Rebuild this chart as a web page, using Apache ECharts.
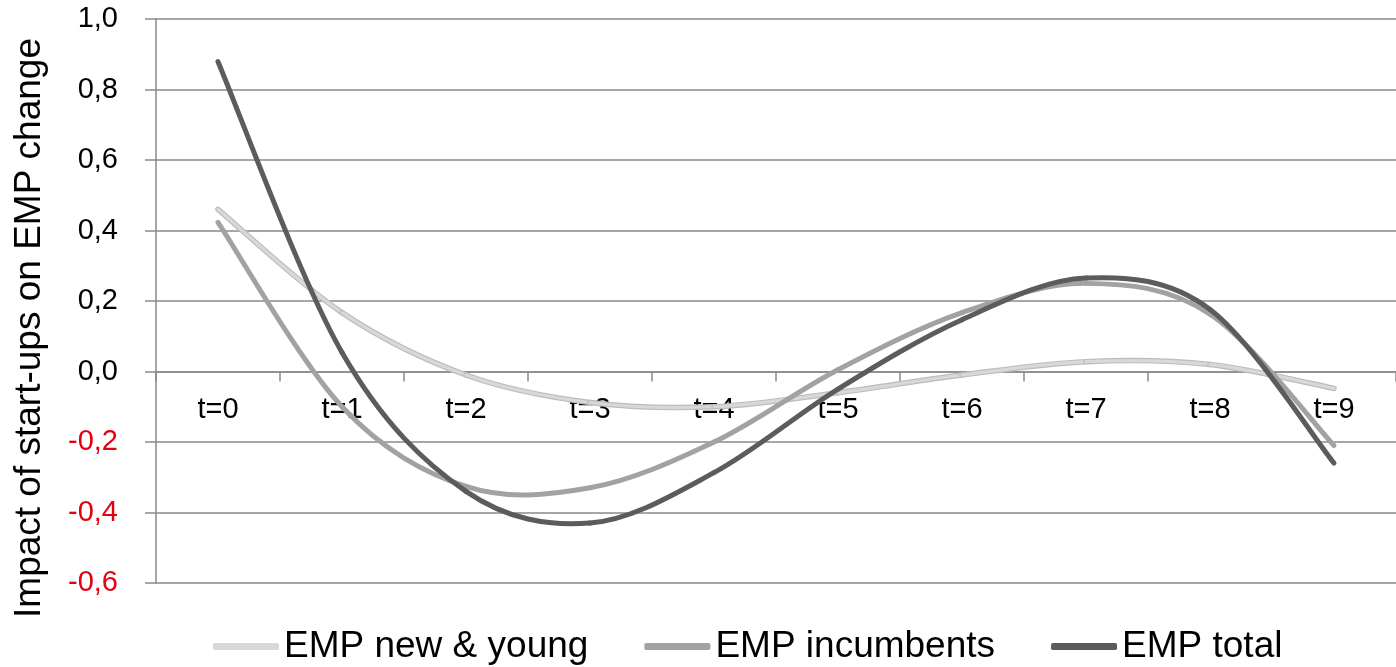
<!DOCTYPE html>
<html>
<head>
<meta charset="utf-8">
<script src="https://cdn.jsdelivr.net/npm/echarts@6/dist/echarts.min.js"></script>
<style>
html,body{margin:0;padding:0;background:#fff;}
#c{width:1396px;height:667px;}
</style>
</head>
<body>
<div id="c"></div>
<script>
const categories = ['t=0','t=1','t=2','t=3','t=4','t=5','t=6','t=7','t=8','t=9'];
const newYoung = [0.46, 0.167, -0.01, -0.088, -0.10, -0.06, -0.01, 0.028, 0.02, -0.048];
const incumbents = [0.423, -0.10, -0.326, -0.33, -0.20, 0.005, 0.167, 0.25, 0.163, -0.21];
const total = [0.879, 0.054, -0.34, -0.43, -0.287, -0.05, 0.147, 0.265, 0.176, -0.26];
const seriesNames = ['EMP new & young', 'EMP incumbents', 'EMP total'];
const yAxisTitle = 'Impact of start-ups on EMP change';

const FONT = '"Liberation Sans", Arial, sans-serif';
const GRID = '#8a8a8a';
const colors = ['#d8d8d8', '#a2a2a2', '#5c5c5c'];
const edgeColors = ['#bcbcbc', null, null];

// Excel-like smoothed line (cardinal spline, 1/6 tangent), drawn per segment through api.coord
function smoothSeries(name, values, color, edge, z) {
  return {
    name: name,
    type: 'custom',
    coordinateSystem: 'cartesian2d',
    z: z,
    itemStyle: { color: color },
    encode: { x: 0, y: 1 },
    data: values.map((v, i) => [i, v]),
    renderItem: function (params, api) {
      const i = params.dataIndex;
      const n = values.length;
      if (i >= n - 1) return null;
      const P = k => {
        const kk = Math.max(0, Math.min(n - 1, k));
        return api.coord([kk, values[kk]]);
      };
      const p0 = P(i - 1), p1 = P(i), p2 = P(i + 1), p3 = P(i + 2);
      const t = 1 / 6;
      const shape = {
        x1: p1[0], y1: p1[1],
        cpx1: p1[0] + (p2[0] - p0[0]) * t, cpy1: p1[1] + (p2[1] - p0[1]) * t,
        cpx2: p2[0] - (p3[0] - p1[0]) * t, cpy2: p2[1] - (p3[1] - p1[1]) * t,
        x2: p2[0], y2: p2[1]
      };
      const children = [];
      if (edge) {
        children.push({ type: 'bezierCurve', shape: shape,
          style: { stroke: edge, lineWidth: 5.5, fill: null, lineCap: 'round' } });
        children.push({ type: 'bezierCurve', shape: shape,
          style: { stroke: color, lineWidth: 3.2, fill: null, lineCap: 'round' } });
      } else {
        children.push({ type: 'bezierCurve', shape: shape,
          style: { stroke: color, lineWidth: 5, fill: null, lineCap: 'round' } });
      }
      return { type: 'group', children: children };
    }
  };
}

const chart = echarts.init(document.getElementById('c'));
chart.setOption({
  animation: false,
  textStyle: { fontFamily: FONT },
  grid: { left: 156, right: -10, top: 19, bottom: 84, containLabel: false },
  legend: {
    left: 213, top: 628, padding: 0,
    itemWidth: 66, itemHeight: 7, itemGap: 56,
    icon: 'roundRect',
    textStyle: { fontSize: 37, color: '#000', fontFamily: FONT },
    data: seriesNames
  },
  xAxis: {
    type: 'category',
    data: categories,
    boundaryGap: true,
    position: 'bottom',
    offset: -211.5,
    axisLine: { onZero: false, lineStyle: { color: GRID, width: 1.5 } },
    axisTick: { show: true, length: 10, lineStyle: { color: GRID, width: 1.5 } },
    axisLabel: { fontSize: 29, color: '#000', margin: 24, fontFamily: FONT },
    splitLine: { show: false }
  },
  yAxis: {
    type: 'value',
    min: -0.6, max: 1.0, interval: 0.2,
    name: yAxisTitle,
    nameLocation: 'middle',
    nameGap: 108,
    nameTextStyle: { fontSize: 37, color: '#000', fontFamily: FONT, padding: [0, 54, 0, 0] },
    axisLine: { show: true, lineStyle: { color: GRID, width: 1.5 } },
    axisTick: { show: true, length: 11, lineStyle: { color: GRID, width: 1.5 } },
    axisLabel: {
      fontSize: 29, margin: 38, fontFamily: FONT,
      formatter: v => (Math.round(v * 10) / 10).toFixed(1).replace('.', ','),
      color: v => (v < -1e-9 ? '#e3000f' : '#000')
    },
    splitLine: { show: true, lineStyle: { color: GRID, width: 1.5 } }
  },
  series: [
    smoothSeries(seriesNames[0], newYoung, colors[0], edgeColors[0], 2),
    smoothSeries(seriesNames[1], incumbents, colors[1], edgeColors[1], 3),
    smoothSeries(seriesNames[2], total, colors[2], edgeColors[2], 4)
  ]
});
</script>
</body>
</html>
